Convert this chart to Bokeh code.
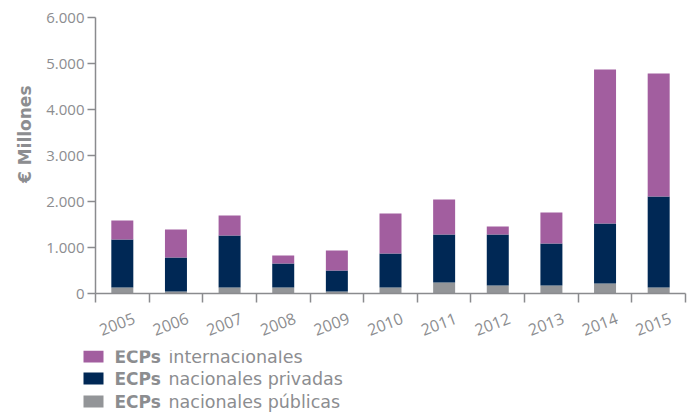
from bokeh.plotting import figure
from bokeh.models import Range1d, LinearAxis, FixedTicker, Title, ColumnDataSource
from bokeh.core.properties import value
from bokeh.embed import file_html
from bokeh.resources import INLINE

years = ["2005", "2006", "2007", "2008", "2009", "2010", "2011", "2012", "2013", "2014", "2015"]
publicas = [130, 45, 130, 130, 45, 130, 239, 174, 174, 217, 130]
privadas = [1044, 738, 1131, 522, 455, 740, 1044, 1109, 913, 1305, 1979]
internacionales = [413, 608, 435, 174, 435, 869, 760, 174, 674, 3348, 2674]
y_ticks = [0, 1000, 2000, 3000, 4000, 5000, 6000]
y_tick_labels = ["0", "1.000", "2.000", "3.000", "4.000", "5.000", "6.000"]
series = ["publicas", "privadas", "internacionales"]
legend_bold = ["ECPs", "ECPs", "ECPs"]
legend_text = ["internacionales", "nacionales privadas", "nacionales públicas"]

PURPLE = "#A25E9F"
NAVY = "#002855"
GRAY = "#939598"
TEXT = "#8C8D90"
AXIS = "#8A8B8E"
FONT = "Open Sans"
LFONT = "DejaVu Sans"

n = len(years)
pos = [i + 0.5 for i in range(n)]
label_pos = [x + 0.22 for x in pos]

p = figure(x_range=Range1d(0, n), y_range=Range1d(0, 6000),
           output_backend="svg", toolbar_location=None,
           x_axis_location=None, y_axis_location=None)
p.frame_width = 590
p.frame_height = 276
p.min_border_left = 95
p.min_border_right = 2
p.min_border_top = 17
p.min_border_bottom = 57
p.outline_line_color = None
p.grid.visible = False
p.background_fill_color = "white"

data = dict(pos=pos, publicas=publicas, privadas=privadas, internacionales=internacionales)
p.vbar_stack(series, x="pos", width=0.41, source=data,
             color=[GRAY, NAVY, PURPLE], line_color=None)

# y axis
yaxis = LinearAxis(ticker=FixedTicker(ticks=y_ticks))
yaxis.major_label_overrides = {t: l for t, l in zip(y_ticks, y_tick_labels)}
yaxis.axis_line_color = AXIS
yaxis.axis_line_width = 1.5
yaxis.major_tick_line_color = AXIS
yaxis.major_tick_line_width = 1.5
yaxis.major_tick_out = 8
yaxis.major_tick_in = 0
yaxis.minor_tick_line_color = None
yaxis.major_label_standoff = 3
yaxis.major_label_text_font = FONT
yaxis.major_label_text_font_size = "15px"
yaxis.major_label_text_color = TEXT
p.add_layout(yaxis, "left")

p.add_layout(Title(text="€ Millones", align="right", offset=68, standoff=17,
                   text_font=LFONT, text_font_size="17px", text_font_style="bold",
                   text_color=TEXT), "left")

# boundary ticks axis
tick_axis = LinearAxis(ticker=FixedTicker(ticks=list(range(n + 1))))
tick_axis.axis_line_color = AXIS
tick_axis.axis_line_width = 1.5
tick_axis.major_tick_line_color = AXIS
tick_axis.major_tick_line_width = 1.5
tick_axis.major_tick_out = 9
tick_axis.major_tick_in = 0
tick_axis.minor_tick_line_color = None
tick_axis.major_label_text_font_size = "0px"
tick_axis.major_label_standoff = 0
p.add_layout(tick_axis, "below")

# year labels axis
cat_axis = LinearAxis(ticker=FixedTicker(ticks=label_pos))
cat_axis.major_label_overrides = {x: y for x, y in zip(label_pos, years)}
cat_axis.axis_line_color = None
cat_axis.major_tick_line_color = None
cat_axis.minor_tick_line_color = None
cat_axis.major_label_orientation = 0.36
cat_axis.major_label_standoff = 9
cat_axis.major_label_text_font = FONT
cat_axis.major_label_text_font_size = "16px"
cat_axis.major_label_text_color = TEXT
p.add_layout(cat_axis, "below")

# legend as a separate strip (page y 350..412), y measured up from page 412
LW, LH = 687, 62
leg = figure(x_range=Range1d(0, LW), y_range=Range1d(0, LH), width=LW, height=LH,
             output_backend="svg", toolbar_location=None,
             x_axis_location=None, y_axis_location=None, min_border=0)
leg.outline_line_color = None
leg.grid.visible = False
box_y = [56, 34, 11]
lsrc = ColumnDataSource(dict(
    color=[PURPLE, NAVY, GRAY],
    bold=legend_bold, text=legend_text, box_y=box_y,
))
leg.rect(x=93, y="box_y", width=20, height=12, fill_color="color", line_color=None, source=lsrc)
leg.text(x=114, y="box_y", text="bold", text_font=value(LFONT), text_font_size="17px",
         text_font_style="bold", text_color=TEXT, text_baseline="middle", source=lsrc)
leg.text(x=168, y="box_y", text="text", text_font=value(LFONT), text_font_size="17.5px",
         text_color=TEXT, text_baseline="middle", source=lsrc)

open("out.html", "w").write(file_html([p, leg], INLINE))
